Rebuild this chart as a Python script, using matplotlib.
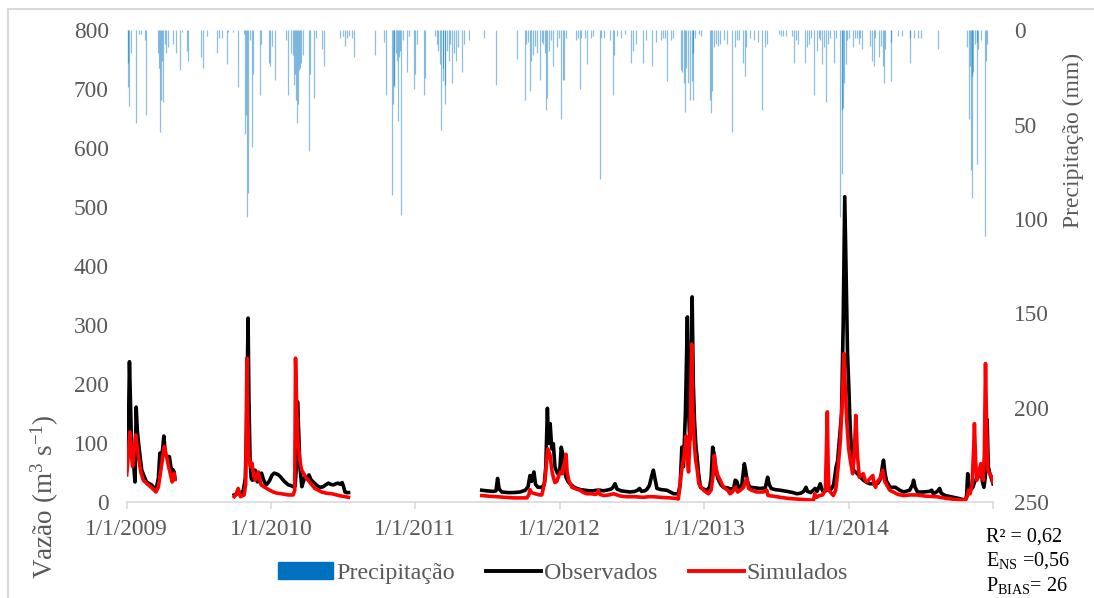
import numpy as np
import matplotlib
matplotlib.use("Agg")
import matplotlib.pyplot as plt
from matplotlib.patches import Patch, Rectangle
from matplotlib.lines import Line2D

plt.rcParams["font.family"] = ["Liberation Serif", "DejaVu Serif"]
plt.rcParams["mathtext.fontset"] = "custom"
plt.rcParams["mathtext.rm"] = "Liberation Serif"
plt.rcParams["mathtext.it"] = "Liberation Serif:italic"

START = np.datetime64("2009-01-01")

# Observed / simulated discharge (m3/s), days counted from 1/1/2009, three gauged periods
obs_2009_days = [0, 5, 7, 12, 18, 21, 24, 27, 30, 38, 50, 63, 74, 80, 84, 88, 94, 98, 104, 108, 114, 117, 120, 122]
obs_2009_q = [55, 150, 238, 105, 60, 34, 161, 120, 100, 54, 34, 29, 20, 40, 83, 70, 112, 80, 77, 77, 49, 55, 51, 40]
sim_2009_days = [0, 4, 8, 12, 15, 19, 23, 27, 31, 36, 42, 55, 65, 74, 80, 84, 90, 95, 101, 106, 110, 115, 118, 120, 122]
sim_2009_q = [46, 80, 119, 80, 60, 90, 114, 90, 71, 50, 37, 29, 23, 17, 25, 43, 70, 94, 77, 60, 49, 34, 45, 49, 38]

obs_2010_days = [272, 280, 284, 290, 295, 300, 303, 307, 309, 312, 315, 318, 321, 325, 328, 331, 336, 341,
                 346, 352, 357, 362, 367, 373, 378, 384, 390, 396, 402, 409, 415, 421, 426, 429, 432, 435,
                 438, 443, 447, 451, 456, 461, 466, 472, 478, 485, 491, 497, 503, 510, 516, 523, 529, 535,
                 540, 545, 549, 552, 556, 561]
obs_2010_q = [12, 14, 17, 15, 20, 40, 120, 312, 180, 71, 40, 37, 45, 54, 40, 34, 42, 49,
              38, 29, 32, 37, 45, 49, 48, 46, 42, 37, 33, 29, 28, 26, 27, 60, 170, 120,
              60, 26, 35, 43, 40, 46, 38, 34, 30, 26, 25, 26, 29, 32, 30, 29, 31, 32,
              30, 33, 25, 17, 16, 16]
sim_2010_days = [272, 276, 282, 285, 288, 297, 301, 304, 306, 309, 313, 317, 321, 325, 329, 333, 336, 340,
                 347, 354, 362, 371, 380, 392, 400, 409, 415, 421, 425, 427, 430, 433, 438, 442, 447, 453,
                 459, 467, 476, 485, 493, 505, 519, 531, 544, 553, 561]
sim_2010_q = [9, 12, 23, 15, 9, 12, 30, 244, 150, 77, 60, 66, 45, 37, 45, 51, 40, 29,
              26, 23, 20, 17, 15, 14, 13, 12, 12, 12, 20, 244, 160, 105, 71, 55, 49, 42,
              37, 30, 23, 20, 17, 15, 14, 12, 10, 9, 8]

obs_2014_days = [898, 910, 927, 934, 938, 942, 949, 965, 978, 995, 1008, 1015, 1020, 1024, 1030, 1034, 1040,
                 1050, 1056, 1060, 1064, 1067, 1071, 1075, 1079, 1083, 1086, 1090, 1095, 1099, 1103, 1107,
                 1111, 1116, 1121, 1130, 1138, 1148, 1159, 1170, 1180, 1188, 1197, 1205, 1214, 1225, 1230,
                 1235, 1240, 1250, 1262, 1273, 1285, 1292, 1297, 1302, 1310, 1315, 1322, 1328, 1332, 1336,
                 1341, 1352, 1366, 1375, 1383, 1395, 1400, 1404, 1408, 1413, 1418, 1421, 1424, 1427, 1430,
                 1433, 1436, 1440, 1442, 1446, 1451, 1459, 1467, 1474, 1478, 1482, 1486, 1490, 1495, 1502,
                 1509, 1520, 1526, 1535, 1539, 1543, 1548, 1555, 1562, 1565, 1568, 1572, 1577, 1590, 1602,
                 1615, 1621, 1625, 1630, 1640, 1653, 1670, 1685, 1695, 1705, 1712, 1718, 1722, 1730, 1741,
                 1746, 1754, 1758, 1762, 1770, 1776, 1782, 1788, 1794, 1798, 1803, 1808, 1812, 1816, 1819,
                 1823, 1826, 1830, 1834, 1838, 1848, 1856, 1863, 1872, 1880, 1890, 1900, 1907, 1911, 1914,
                 1918, 1922, 1931, 1944, 1955, 1965, 1980, 1988, 1990, 1994, 2000, 2015, 2030, 2036, 2040,
                 2050, 2056, 2060, 2070, 2091, 2105, 2121, 2124, 2127, 2130, 2134, 2140, 2146, 2150, 2155,
                 2160, 2164, 2168, 2171, 2173, 2176, 2179, 2183, 2187, 2191]
obs_2014_q = [20, 19, 18, 19, 40, 22, 17, 16, 16, 17, 20, 26, 45, 35, 51, 30, 25,
              25, 30, 60, 159, 100, 133, 90, 99, 60, 54, 48, 50, 93, 81, 60,
              42, 35, 31, 26, 23, 21, 20, 19, 19, 20, 20, 19, 20, 22, 25,
              31, 22, 19, 18, 17, 18, 20, 23, 18, 19, 21, 28, 45, 54, 40,
              23, 21, 20, 17, 14, 14, 30, 93, 60, 150, 314, 160, 105, 200, 348,
              200, 138, 90, 81, 50, 25, 22, 20, 25, 40, 93, 80, 54, 40, 30,
              25, 24, 22, 23, 37, 35, 24, 25, 65, 55, 42, 30, 25, 24, 23,
              24, 42, 30, 23, 21, 20, 18, 16, 14, 15, 18, 25, 18, 16, 23,
              18, 31, 22, 17, 20, 25, 22, 30, 59, 70, 110, 150, 300, 518, 400,
              252, 200, 122, 80, 54, 48, 42, 37, 33, 31, 31, 32, 40, 60, 71,
              48, 35, 25, 25, 20, 17, 20, 30, 37, 25, 17, 17, 18, 20, 14,
              18, 23, 15, 11, 8, 6, 3, 10, 48, 30, 20, 25, 37, 40, 45,
              62, 35, 25, 40, 60, 140, 60, 48, 40, 31]
sim_2014_days = [898, 915, 936, 960, 978, 1000, 1012, 1017, 1020, 1024, 1033, 1045, 1050, 1058, 1062, 1065,
                 1068, 1071, 1075, 1079, 1083, 1088, 1093, 1098, 1102, 1106, 1111, 1114, 1118, 1126, 1137,
                 1147, 1155, 1164, 1175, 1185, 1190, 1193, 1197, 1206, 1220, 1231, 1240, 1250, 1265, 1285,
                 1307, 1320, 1332, 1350, 1374, 1390, 1395, 1398, 1401, 1405, 1410, 1415, 1418, 1421, 1425,
                 1429, 1432, 1435, 1439, 1442, 1447, 1453, 1459, 1465, 1471, 1478, 1483, 1486, 1490, 1495,
                 1501, 1507, 1513, 1520, 1526, 1532, 1539, 1545, 1552, 1560, 1568, 1573, 1580, 1594, 1610,
                 1619, 1622, 1635, 1653, 1675, 1695, 1715, 1737, 1740, 1745, 1752, 1760, 1767, 1770, 1772,
                 1774, 1776, 1787, 1793, 1796, 1800, 1805, 1810, 1814, 1817, 1821, 1826, 1830, 1836, 1840,
                 1844, 1848, 1853, 1858, 1863, 1867, 1872, 1880, 1887, 1890, 1894, 1898, 1905, 1912, 1917,
                 1922, 1930, 1939, 1950, 1965, 1980, 1998, 2020, 2049, 2075, 2100, 2121, 2126, 2129, 2133,
                 2138, 2142, 2144, 2147, 2150, 2155, 2160, 2163, 2166, 2169, 2172, 2175, 2178, 2183, 2188,
                 2191]
sim_2014_q = [11, 10, 9, 8, 7, 7, 7, 12, 21, 16, 14, 12, 12, 37, 70, 90,
              85, 79, 55, 42, 33, 35, 45, 51, 48, 60, 81, 50, 37, 25, 22,
              20, 16, 14, 14, 13, 14, 20, 13, 11, 12, 14, 12, 10, 9, 9,
              8, 9, 9, 8, 7, 6, 5, 20, 42, 60, 80, 112, 70, 51, 120,
              268, 150, 105, 70, 59, 31, 25, 20, 17, 14, 20, 45, 79, 59, 45,
              37, 28, 23, 20, 14, 17, 25, 17, 20, 25, 40, 23, 20, 17, 17,
              20, 11, 10, 8, 6, 5, 4, 3, 14, 8, 11, 12, 20, 100, 153,
              60, 20, 11, 20, 37, 65, 105, 180, 252, 200, 137, 90, 71, 48, 80,
              147, 80, 42, 45, 48, 38, 34, 40, 45, 30, 25, 34, 40, 54, 35,
              29, 20, 17, 13, 11, 12, 12, 10, 9, 6, 4, 3, 10, 20, 14,
              30, 90, 133, 70, 37, 45, 65, 50, 37, 80, 235, 120, 54, 48, 42,
              34]

# Daily rainfall (mm) on days with rain, days counted from 1/1/2009
rain_days = [3, 4, 5, 12, 23, 30, 36, 47, 50, 80, 82, 84, 87, 90, 92, 96, 100, 105, 116, 125, 136, 140,
             153, 155, 189, 193, 202, 229, 233, 240, 254, 257, 269, 282, 296, 300, 303, 304, 306, 313,
             318, 320, 337, 340, 360, 362, 367, 375, 402, 408, 415, 420, 422, 426, 429, 430, 432, 435,
             438, 442, 446, 461, 463, 473, 479, 495, 500, 540, 547, 553, 556, 562, 571, 575, 628, 650,
             657, 671, 673, 675, 677, 682, 684, 686, 688, 691, 695, 699, 708, 714, 726, 728, 735, 751,
             754, 779, 784, 788, 793, 795, 799, 801, 804, 806, 810, 815, 818, 823, 828, 833, 837, 849,
             853, 866, 903, 935, 988, 1007, 1010, 1014, 1019, 1023, 1028, 1032, 1037, 1045, 1050, 1054,
             1058, 1061, 1064, 1069, 1073, 1078, 1088, 1093, 1098, 1103, 1107, 1112, 1136, 1141, 1146,
             1150, 1160, 1164, 1174, 1179, 1196, 1199, 1208, 1223, 1230, 1232, 1240, 1250, 1260, 1275,
             1280, 1289, 1307, 1314, 1328, 1338, 1352, 1357, 1362, 1366, 1376, 1381, 1403, 1405, 1410,
             1412, 1414, 1419, 1424, 1429, 1431, 1433, 1438, 1448, 1452, 1476, 1478, 1481, 1486, 1490,
             1495, 1500, 1510, 1519, 1531, 1539, 1544, 1548, 1558, 1563, 1567, 1577, 1587, 1596, 1606,
             1615, 1620, 1649, 1654, 1659, 1668, 1683, 1688, 1692, 1697, 1716, 1721, 1726, 1730, 1738,
             1745, 1750, 1754, 1759, 1764, 1769, 1774, 1778, 1790, 1793, 1803, 1808, 1810, 1812, 1815,
             1819, 1822, 1827, 1836, 1841, 1846, 1851, 1855, 1860, 1879, 1884, 1889, 1893, 1903, 1908,
             1913, 1916, 1918, 1932, 1934, 1951, 1961, 1980, 1981, 1990, 2000, 2009, 2052, 2124, 2129,
             2134, 2136, 2138, 2139, 2141, 2146, 2150, 2151, 2154, 2160, 2170, 2172, 2177]
rain_mm = [17, 30, 40, 12, 49, 2, 2, 5, 45, 12, 20, 54, 37, 16, 38, 7, 12, 9, 7, 12, 21, 1,
           11, 16, 14, 20, 3, 12, 4, 4, 18, 1, 1, 30, 2, 55, 45, 99, 86, 5,
           62, 23, 34, 7, 17, 19, 8, 26, 5, 34, 12, 13, 29, 23, 37, 49, 39, 21,
           20, 17, 13, 64, 23, 36, 4, 10, 19, 4, 3, 8, 4, 3, 4, 14, 13, 6,
           34, 87, 39, 29, 30, 12, 16, 48, 14, 11, 98, 5, 22, 3, 31, 23, 7, 34,
           25, 3, 7, 11, 18, 53, 27, 20, 39, 29, 11, 16, 7, 28, 12, 16, 9, 22,
           7, 5, 4, 29, 15, 37, 7, 6, 32, 16, 13, 8, 12, 26, 6, 7,
           12, 42, 36, 11, 5, 19, 9, 4, 47, 26, 26, 4, 5, 4, 31,
           4, 4, 18, 4, 3, 79, 4, 4, 5, 34, 13, 3, 4, 2, 17,
           11, 7, 17, 5, 19, 6, 5, 4, 4, 27, 5, 4, 21, 22, 28,
           43, 20, 28, 37, 27, 37, 12, 4, 2, 3, 37, 44, 32, 9, 7,
           8, 7, 5, 7, 54, 9, 5, 5, 17, 24, 9, 4, 5, 6, 42,
           9, 7, 2, 3, 3, 3, 3, 17, 5, 7, 17, 9, 7, 4, 34,
           11, 4, 5, 18, 9, 38, 7, 4, 17, 4, 99, 42, 76, 41, 28,
           18, 5, 4, 9, 4, 4, 7, 4, 10, 8, 16, 19, 4, 14, 8,
           19, 28, 10, 6, 27, 3, 3, 4, 17, 4, 4, 4, 10, 9, 47,
           19, 74, 89, 24, 22, 7, 71, 6, 10, 5, 109, 16, 7]

TICK_YEARS = ["2009", "2010", "2011", "2012", "2013", "2014", "2015"]
TICK_LABELS = ["1/1/2009", "1/1/2010", "1/1/2011", "1/1/2012", "1/1/2013", "1/1/2014", ""]

STATS = ["R² = 0,62", r"E$_{\mathrm{NS}}$ =0,56", r"P$_{\mathrm{BIAS}}$= 26"]

GREY = "#595959"
AXIS_COL = "#D9D9D9"
RAIN_COL = "#0070C0"


def to_dates(days):
    return START + np.array(days, dtype="timedelta64[D]")


fig = plt.figure(figsize=(10.94, 5.98), dpi=100)
ax = fig.add_axes([0.1158, 0.1605, 0.7919, 0.7885])
ax2 = ax.twinx()
ax.set_zorder(2)
ax2.set_zorder(1)
ax.patch.set_visible(False)

# rainfall hangs from the top on the secondary axis
ax2.vlines(to_dates(rain_days), 0, rain_mm, color=RAIN_COL, alpha=0.45, linewidth=0.9)
ax2.set_ylim(250, 0)
ax2.set_yticks([0, 50, 100, 150, 200, 250])

for days, q in [(obs_2009_days, obs_2009_q), (obs_2010_days, obs_2010_q), (obs_2014_days, obs_2014_q)]:
    ax.plot(to_dates(days), q, color="black", lw=2.6, solid_joinstyle="round")
for days, q in [(sim_2009_days, sim_2009_q), (sim_2010_days, sim_2010_q), (sim_2014_days, sim_2014_q)]:
    ax.plot(to_dates(days), q, color="#FF0000", lw=2.6, solid_joinstyle="round")

ax.set_ylim(0, 800)
ax.set_yticks(range(0, 801, 100))
tick_dates = [np.datetime64(y + "-01-01") for y in TICK_YEARS]
ax.set_xlim(tick_dates[0], tick_dates[-1])
ax.set_xticks(tick_dates, TICK_LABELS)

for a in (ax, ax2):
    for s in a.spines.values():
        s.set_visible(False)
ax.spines["bottom"].set_visible(True)
ax.spines["bottom"].set_color(AXIS_COL)
ax.spines["bottom"].set_linewidth(1.2)
ax.tick_params(axis="x", direction="out", length=5, width=1.2, color=AXIS_COL,
               labelsize=16.8, labelcolor=GREY, pad=7)
ax.tick_params(axis="y", length=0, labelsize=16.8, labelcolor=GREY, pad=13)
ax2.tick_params(axis="y", length=0, labelsize=16.8, labelcolor=GREY, pad=15)

fig.text(45 / 1094, 1 - 497 / 598, r"Vazão (m$^{3}$ s$^{-1}$)", rotation=90,
         ha="center", va="center", fontsize=19.5, color=GREY)
fig.text(1073 / 1094, 1 - 140 / 598, "Precipitação (mm)", rotation=90,
         ha="center", va="center", fontsize=17, color=GREY)

handles = [Patch(facecolor=RAIN_COL, edgecolor=RAIN_COL),
           Line2D([], [], color="black", lw=2.8),
           Line2D([], [], color="#FF0000", lw=2.8)]
fig.legend(handles, ["Precipitação", "Observados", "Simulados"], loc="center",
           bbox_to_anchor=(563 / 1094, 1 - 573 / 598), ncol=3, frameon=False,
           fontsize=17.3, labelcolor=GREY, handlelength=2.3, handletextpad=0.12,
           columnspacing=1.3)

for i, s in enumerate(STATS):
    fig.text(986 / 1094, 1 - (537 + 24 * i) / 598, s, ha="left", va="center",
             fontsize=14.5, color="black")

# light chart-area frame
fig.patches.append(Rectangle((8 / 1094, -0.1), 1.2, 1 - 9 / 598 + 0.1, transform=fig.transFigure,
                             fill=False, edgecolor=AXIS_COL, lw=1.5))

fig.savefig("out.png", dpi=100)
